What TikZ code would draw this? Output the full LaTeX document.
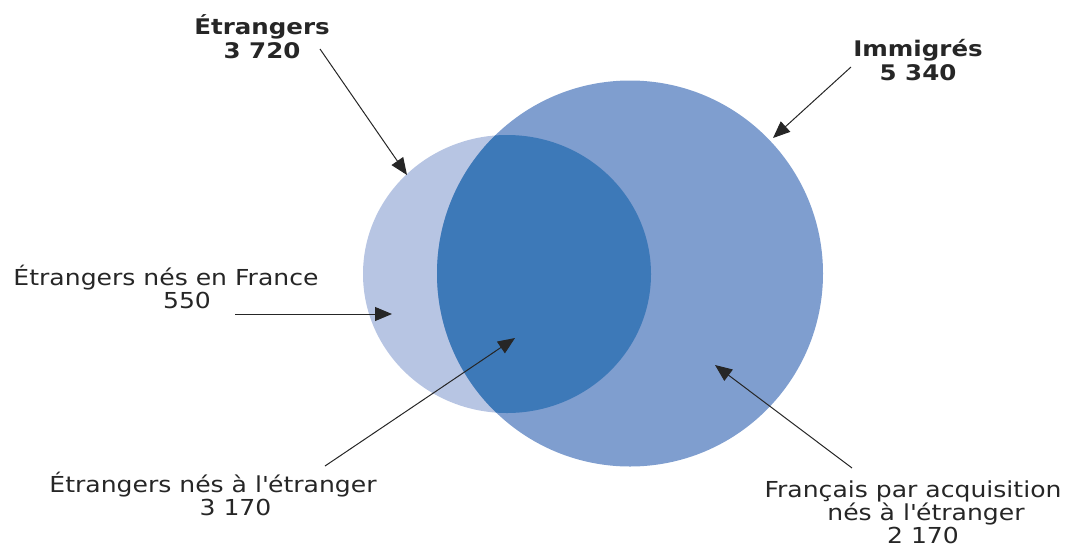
\documentclass[tikz,border=0pt]{standalone}
\usepackage{fontspec}
\setmainfont{DejaVu Sans}[FakeStretch=1.14]
\usetikzlibrary{arrows.meta}

\definecolor{etrfill}{HTML}{B7C5E3}
\definecolor{immfill}{HTML}{7F9ECF}
\definecolor{bothfill}{HTML}{3D79B8}
\definecolor{txt}{HTML}{262626}

\tikzset{
  lbl/.style={align=center, text=txt, inner sep=0pt, font=\fontsize{22}{23}\selectfont},
  ttl/.style={lbl, font=\fontsize{21.5}{24}\selectfont\bfseries},
  ptr/.style={draw=txt, line width=1pt, -{Triangle[length=17pt,width=14pt]}}
}

\begin{document}
\begin{tikzpicture}[x=1pt,y=-1pt]
      \useasboundingbox (0,0) rectangle (1070,547);
      % the two sets
      \fill[etrfill] (507,274) ellipse (144 and 139);
      \fill[immfill] (630,273.5) circle (193);
      \begin{scope}
        \clip (507,274) ellipse (144 and 139);
        \fill[bothfill] (630,273.5) circle (193);
      \end{scope}
      % labels
      \node[ttl] (etr) at (262,37) {Étrangers\\3 720};
      \node[ttl] (imm) at (918,60) {Immigrés\\5 340};
      \node[lbl] (nesfr) at (166,287) {Étrangers nés en France\\\hspace*{42pt}550};
      \node[lbl] (nesetr) at (213,494) {Étrangers nés à l\textquotesingle étranger\\\hspace*{45pt}3 170};
      \node[lbl] (fra) at (913,512) {Français par acquisition\\\hspace*{26pt}nés à l\textquotesingle étranger\\\hspace*{20pt}2 170};
      % pointers
      \coordinate (etrfrom) at (320,49);
      \coordinate (etrto) at (407,175);
      \coordinate (immfrom) at (851,67);
      \coordinate (immto) at (773,138);
      \coordinate (nesfrfrom) at (235,314);
      \coordinate (nesfrto) at (392,314);
      \coordinate (nesetrfrom) at (325,466);
      \coordinate (nesetrto) at (515,338);
      \coordinate (frafrom) at (852,468);
      \coordinate (frato) at (715,365);
      \begin{scope}[ptr]
        \draw (etrfrom) to (etrto);
        \draw (immfrom) to (immto);
        \draw (nesfrfrom) to (nesfrto);
        \draw (nesetrfrom) to (nesetrto);
        \draw (frafrom) to (frato);
      \end{scope}
    \end{tikzpicture}
\end{document}
